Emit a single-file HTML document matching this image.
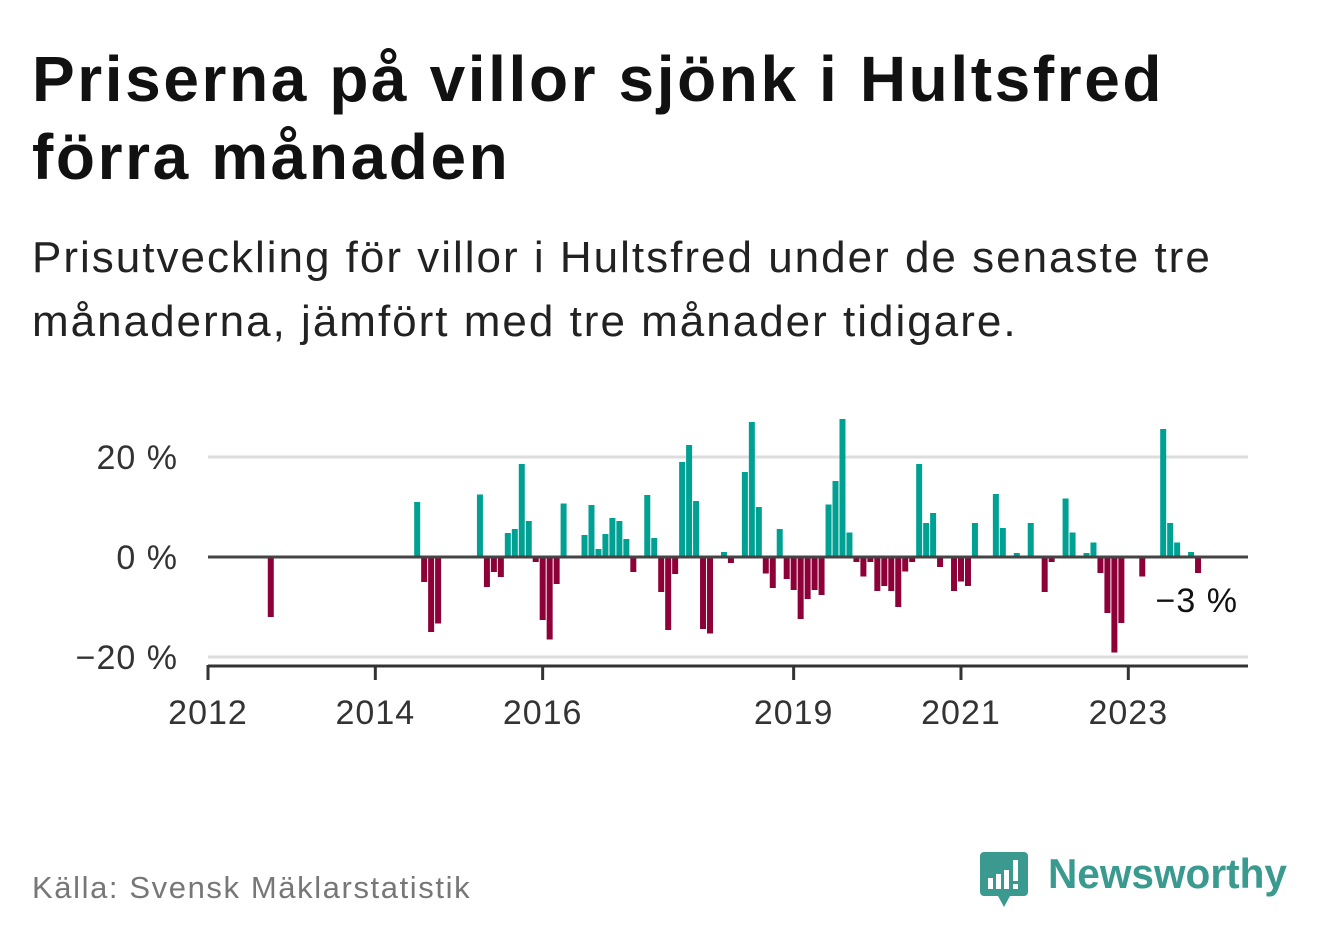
<!DOCTYPE html>
<html><head><meta charset="utf-8">
<style>
body{margin:0;width:1322px;height:939px;background:#fff;font-family:"Liberation Sans","DejaVu Sans",sans-serif;overflow:hidden;position:relative}
h1{position:absolute;left:32px;top:40px;margin:0;font-size:64px;line-height:78px;font-weight:bold;color:#111;letter-spacing:2.6px}
.sub{position:absolute;left:32px;top:226px;font-size:44px;line-height:64px;color:#222;margin:0;letter-spacing:2px}
.src{position:absolute;left:32px;top:870px;font-size:31px;color:#777;letter-spacing:1.6px}
.logo{position:absolute;left:980px;top:848px}
</style></head><body>
<h1>Priserna på villor sjönk i Hultsfred<br>förra månaden</h1>
<p class="sub">Prisutveckling för villor i Hultsfred under de senaste tre<br>månaderna, jämfört med tre månader tidigare.</p>
<svg id="chart" width="1322" height="939" style="position:absolute;left:0;top:0" xmlns="http://www.w3.org/2000/svg"></svg>
<div class="src">Källa: Svensk Mäklarstatistik</div>
<div class="logo">
<svg width="320" height="64" xmlns="http://www.w3.org/2000/svg">
<path d="M4 4h40a4 4 0 0 1 4 4v36a4 4 0 0 1-4 4H30l-6 11-6-11H4a4 4 0 0 1-4-4V8a4 4 0 0 1 4-4z" fill="#3a9a8f"/>
<rect x="8" y="30" width="5" height="11" fill="#fff"/><rect x="16" y="26" width="5" height="15" fill="#fff"/><rect x="24" y="22" width="5" height="19" fill="#fff"/><rect x="33" y="12" width="5" height="21" fill="#fff"/><rect x="33" y="36" width="5" height="5" fill="#fff"/>
<text x="68" y="40" font-size="42" font-weight="bold" fill="#3a9a8f" textLength="239" lengthAdjust="spacingAndGlyphs" font-family="Liberation Sans, sans-serif">Newsworthy</text>
</svg></div>
<script>
const months=["2012-09","2014-06","2014-07","2014-08","2014-09","2015-03","2015-04","2015-05","2015-06","2015-07","2015-08","2015-09","2015-10","2015-11","2015-12","2016-01","2016-02","2016-03","2016-06","2016-07","2016-08","2016-09","2016-10","2016-11","2016-12","2017-01","2017-03","2017-04","2017-05","2017-06","2017-07","2017-08","2017-09","2017-10","2017-11","2017-12","2018-02","2018-03","2018-05","2018-06","2018-07","2018-08","2018-09","2018-10","2018-11","2018-12","2019-01","2019-02","2019-03","2019-04","2019-05","2019-06","2019-07","2019-08","2019-09","2019-10","2019-11","2019-12","2020-01","2020-02","2020-03","2020-04","2020-05","2020-06","2020-07","2020-08","2020-09","2020-11","2020-12","2021-01","2021-02","2021-05","2021-06","2021-08","2021-10","2021-12","2022-01","2022-03","2022-04","2022-06","2022-07","2022-08","2022-09","2022-10","2022-11","2023-02","2023-05","2023-06","2023-07","2023-09","2023-10"];
const values=[-12,11,-5,-15,-13.3,12.5,-6,-3,-4,4.8,5.6,18.6,7.2,-1,-12.6,-16.5,-5.4,10.7,4.4,10.4,1.6,4.6,7.8,7.2,3.6,-3,12.4,3.8,-7,-14.6,-3.4,19,22.4,11.2,-14.4,-15.3,1,-1.2,17,27,10,-3.3,-6.2,5.6,-4.4,-6.6,-12.4,-8.4,-6.6,-7.6,10.5,15.2,27.6,4.9,-1,-3.9,-1,-6.8,-5.8,-6.8,-10,-2.9,-1,18.6,6.8,8.8,-2,-6.8,-4.9,-5.8,6.8,12.6,5.8,0.8,6.8,-7,-1,11.7,4.9,0.8,2.9,-3.2,-11.2,-19.1,-13.2,-3.9,25.6,6.8,2.9,1,-3.2];
const yTicks=[20,0,-20];
const yTickLabels=["20 %","0 %","−20 %"];
const xTicks=[2012,2014,2016,2019,2021,2023];
const lastLabel="−3 %";

const svg=document.getElementById('chart');
const NS="http://www.w3.org/2000/svg";
const X0=208,MONTH=6.972,Y0=557,PX=5.0;
function xScale(m){const [y,mo]=m.split('-').map(Number);return X0+MONTH*((y-2012)*12+(mo-1));}
function xYear(y){return X0+MONTH*12*(y-2012);}
function yScale(v){return Y0-v*PX;}
function el(tag,attrs,text){const e=document.createElementNS(NS,tag);for(const k in attrs)e.setAttribute(k,attrs[k]);if(text!==undefined)e.textContent=text;svg.appendChild(e);return e;}

yTicks.forEach((t,i)=>{
  if(t!==0){const g=el('line',{x1:208,x2:1248,y1:yScale(t),y2:yScale(t),stroke:'#ddd','stroke-width':3});
  
  }
  const tx=el('text',{x:178,y:yScale(t)+12,'text-anchor':'end','font-size':34,'letter-spacing':1,fill:'#333'},yTickLabels[i]);
  
  
});
months.forEach((m,i)=>{
  const v=values[i];
  const r=el('rect',{x:xScale(m)+4,y:Math.min(yScale(v),Y0),width:6,height:Math.abs(v*PX),fill:v>=0?'#00a193':'#8e0038'});
  
  
});
const z=el('line',{x1:208,x2:1248,y1:Y0,y2:Y0,stroke:'#444','stroke-width':3});


const ax=el('line',{x1:208,x2:1248,y1:666,y2:666,stroke:'#333','stroke-width':3});


xTicks.forEach(y=>{
  const tk=el('line',{x1:xYear(y),x2:xYear(y),y1:665,y2:680,stroke:'#333','stroke-width':3});
  
  
  const tl=el('text',{x:xYear(y),y:724,'text-anchor':'middle','font-size':34,'letter-spacing':1,fill:'#333'},String(y));
  
  
});
const ll=el('text',{x:1238,y:612,'text-anchor':'end','font-size':34,'letter-spacing':1,fill:'#111'},lastLabel);


</script>
</body></html>
